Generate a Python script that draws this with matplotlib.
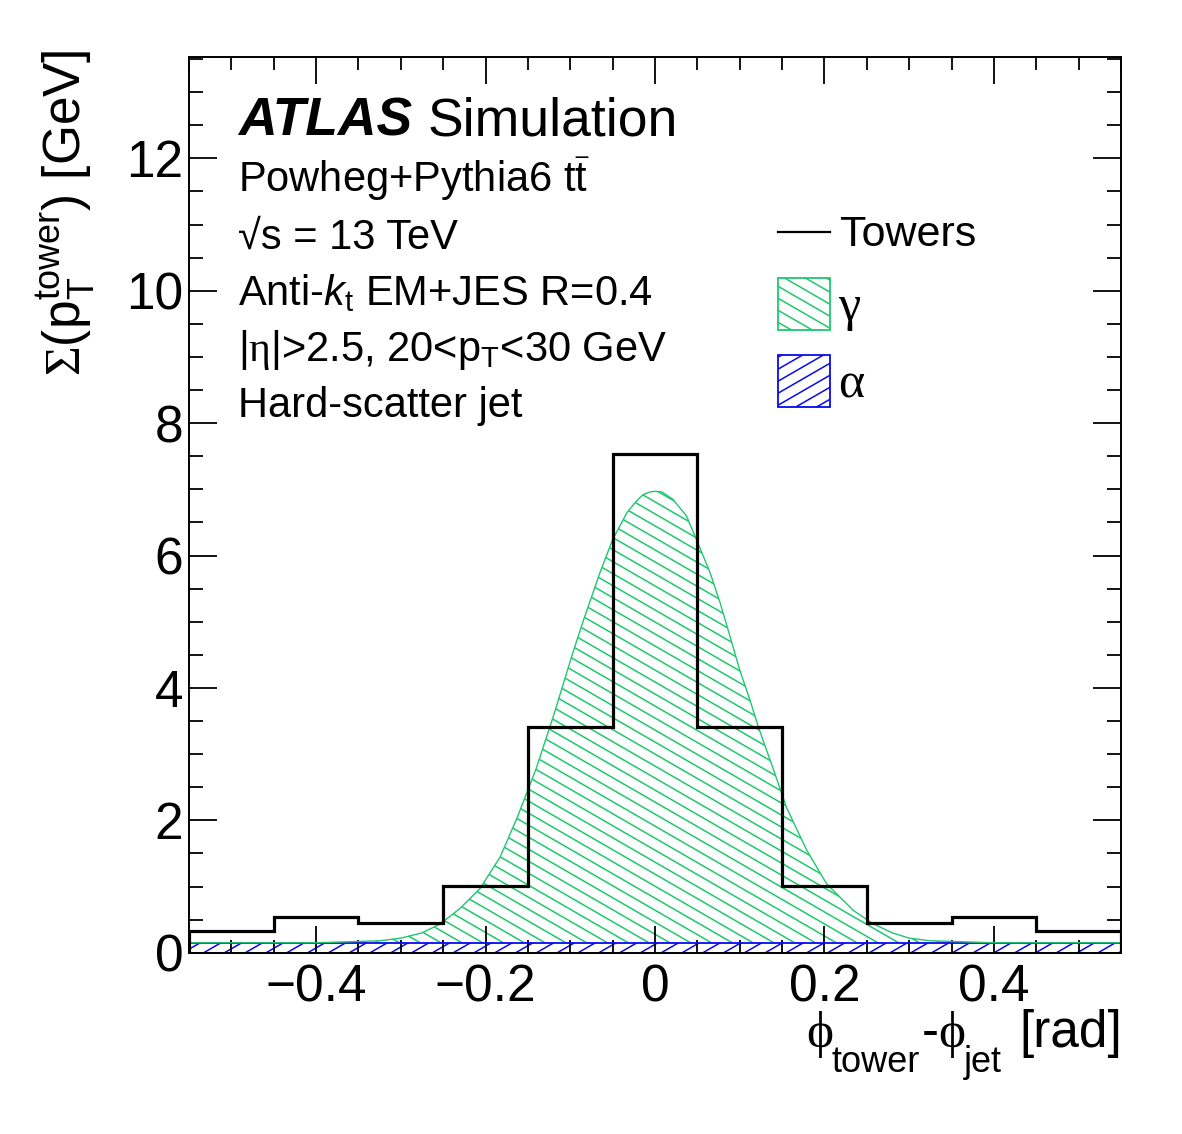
import numpy as np
import matplotlib
matplotlib.use("Agg")
import matplotlib.pyplot as plt
from matplotlib.collections import LineCollection
from matplotlib.transforms import IdentityTransform
from matplotlib.patches import Rectangle
from matplotlib.ticker import MultipleLocator

# ---------------- data ----------------
bin_edges = [-0.55, -0.45, -0.35, -0.25, -0.15, -0.05, 0.05, 0.15, 0.25, 0.35, 0.45, 0.55]
towers = [0.33, 0.54, 0.45, 1.01, 3.41, 7.53, 3.41, 1.01, 0.45, 0.54, 0.33]
alpha_vals = [0.15, 0.15, 0.15, 0.15, 0.15, 0.15, 0.15, 0.15, 0.15, 0.15, 0.15]
gamma_x = [-0.55, -0.40, -0.35, -0.325, -0.30, -0.275, -0.254, -0.23, -0.2065, -0.183,
           -0.163, -0.14, -0.12, -0.097, -0.085, -0.065, -0.05, -0.033, -0.022, -0.014,
           -0.006, 0.0, 0.008, 0.021, 0.037, 0.049, 0.065, 0.077, 0.0885, 0.10,
           0.112, 0.122, 0.14, 0.155, 0.179, 0.2026, 0.234, 0.257, 0.28, 0.30,
           0.325, 0.35, 0.40, 0.55]
gamma_y = [0.0, 0.0, 0.02, 0.03, 0.07, 0.15, 0.28, 0.52, 0.82, 1.29,
           1.88, 2.64, 3.42, 4.38, 4.85, 5.59, 6.09, 6.50, 6.67, 6.77,
           6.81, 6.82, 6.81, 6.70, 6.45, 6.09, 5.59, 5.13, 4.63, 4.12,
           3.67, 3.26, 2.61, 2.05, 1.40, 0.89, 0.49, 0.29, 0.15, 0.07,
           0.03, 0.02, 0.0, 0.0]
x_ticks = [-0.4, -0.2, 0.0, 0.2, 0.4]
x_ticklabels = ["\u22120.4", "\u22120.2", "0", "0.2", "0.4"]
y_ticks = [0, 2, 4, 6, 8, 10, 12]

GREEN = "#1ec86e"
BLUE = "#0a0aee"

plt.rcParams["font.family"] = ["Liberation Sans", "DejaVu Sans"]
plt.rcParams["mathtext.fontset"] = "custom"
plt.rcParams["mathtext.rm"] = "Liberation Serif"
plt.rcParams["mathtext.sf"] = "Liberation Sans"
plt.rcParams["mathtext.it"] = "Liberation Sans:italic"
plt.rcParams["mathtext.bf"] = "Liberation Sans:bold"

W, H = 1182, 1134
fig = plt.figure(figsize=(W / 100, H / 100), dpi=100)
L, R, T, B = 189, 1121, 57, 952.7
ax = fig.add_axes([L / W, 1 - B / H, (R - L) / W, (B - T) / H])
ax.set_xlim(-0.55, 0.55)
ax.set_ylim(0, (B - T) / 66.2)


def hatch(ax, clip_path, clip_transform, angle_deg, spacing, color, lw):
    fig = ax.figure
    bb = fig.bbox
    th = np.deg2rad(angle_deg)
    d = np.array([np.cos(th), np.sin(th)])
    n = np.array([-np.sin(th), np.cos(th)])
    c0 = np.array([bb.width / 2, bb.height / 2])
    Rr = np.hypot(bb.width, bb.height)
    segs = []
    for k in np.arange(-Rr, Rr, spacing):
        c = c0 + k * n
        segs.append([c - Rr * d, c + Rr * d])
    lc = LineCollection(segs, colors=color, linewidths=lw, transform=IdentityTransform(),
                        zorder=1.5)
    ax.add_collection(lc, autolim=False)
    lc.set_clip_path(clip_path, clip_transform)
    return lc


# alpha band (hatched)
edges = np.array(bin_edges)
alpha_arr = np.array(alpha_vals)
abase = np.append(alpha_arr, alpha_arr[-1])
poly_a = ax.fill_between(edges, 0, abase, step="post", facecolor="none", edgecolor="none")
hatch(ax, poly_a.get_paths()[0], ax.transData, 30, 10.4, BLUE, 1.1)
ax.stairs(alpha_arr, edges, color=BLUE, lw=1.3, zorder=2)

# gamma stacked on alpha
gx = np.array(gamma_x)
idx = np.clip(np.searchsorted(edges, gx, side="right") - 1, 0, len(alpha_arr) - 1)
gbase = alpha_arr[idx]
gtop = gbase + np.array(gamma_y)
poly_g = ax.fill_between(gx, gbase, gtop, facecolor="none", edgecolor="none")
hatch(ax, poly_g.get_paths()[0], ax.transData, -30, 10.4, GREEN, 1.1)
ax.plot(gx, gtop, color=GREEN, lw=1.0, zorder=2)

# towers
ax.stairs(towers, edges, color="black", lw=2.3, zorder=3)

# axes style
ax.set_xticks(x_ticks)
ax.set_xticklabels(x_ticklabels)
ax.set_yticks(y_ticks)
ax.xaxis.set_minor_locator(MultipleLocator(0.05))
ax.yaxis.set_minor_locator(MultipleLocator(0.5))
ax.tick_params(which="both", direction="in", top=True, right=True, width=1.3, labelsize=37)
ax.tick_params(axis="y", which="major", length=20, pad=4)
ax.tick_params(axis="y", which="minor", length=10)
ax.tick_params(axis="x", which="major", length=19.5, pad=8)
ax.tick_params(axis="x", which="minor", length=9.5)
for s in ax.spines.values():
    s.set_linewidth(1.4)

ax.set_ylabel(r"$\mathrm{\Sigma}$(p$_{\mathsf{T}}^{\mathsf{tower}}$) [GeV]", fontsize=37,
              ha="right")
ax.yaxis.set_label_coords(-0.099, 1.008)


def fx(px):
    return px / W


def fy(py):
    return 1 - py / H


# x-axis title built from pieces (ROOT-like subscripts)
xt_main = 37
xt_sub = 26
base_main = 1047
base_sub = 1072
fig.text(fx(806), fy(base_main), r"$\mathrm{\phi}$", fontsize=xt_main, va="baseline")
fig.text(fx(832), fy(base_sub), "tower", fontsize=xt_sub, va="baseline")
fig.text(fx(922), fy(base_main), "-", fontsize=xt_main, va="baseline")
fig.text(fx(938), fy(base_main), r"$\mathrm{\phi}$", fontsize=xt_main, va="baseline")
fig.text(fx(964), fy(base_sub), "jet", fontsize=xt_sub, va="baseline")
fig.text(fx(1122), fy(base_main), "[rad]", fontsize=xt_main, va="baseline", ha="right")

fig.text(fx(238), fy(135), "ATLAS", fontsize=38.5, fontweight="bold", style="italic",
         va="baseline")
fig.text(fx(428), fy(135), "Simulation", fontsize=38.5, va="baseline")
lines = [
    r"Powheg+Pythia6 t$\bar{\mathsf{t}}$",
    "\u221as = 13 TeV",
    r"Anti-$\mathit{k}_{\mathsf{t}}$ EM+JES R=0.4",
    r"|$\mathrm{\eta}$|>2.5, 20<p$_{\mathsf{T}}$<30 GeV",
    "Hard-scatter jet",
]
for i, s in enumerate(lines):
    fig.text(fx(238), fy(192 + 56.3 * i), s, fontsize=30, va="baseline")

# legend
fig.add_artist(plt.Line2D([fx(778), fx(830)], [fy(232), fy(232)], color="black", lw=1.6))
fig.text(fx(840), fy(246), "Towers", fontsize=31, va="baseline")
for (y0, col, ang, lab) in [(278, GREEN, -30, "\u03b3"), (355, BLUE, 30, "\u03b1")]:
    rect = Rectangle((fx(778), fy(y0 + 52)), fx(52), 52 / H, transform=fig.transFigure,
                     facecolor="none", edgecolor=col, lw=1.3, zorder=5)
    fig.add_artist(rect)
    th = np.deg2rad(ang)
    d = np.array([np.cos(th), np.sin(th)])
    n = np.array([-np.sin(th), np.cos(th)])
    c0 = np.array([778 + 26, H - (y0 + 26)])
    segs = [[c0 + k * n - 60 * d, c0 + k * n + 60 * d] for k in np.arange(-60, 60, 10.4)]
    lc = LineCollection(segs, colors=col, linewidths=1.1, transform=IdentityTransform())
    fig.add_artist(lc)
    lc.set_clip_path(rect)
    fig.text(fx(838), fy(y0 + 30), lab, fontsize=36, va="center",
             family=["Liberation Serif", "DejaVu Serif"])

fig.savefig("out.png", dpi=100)
